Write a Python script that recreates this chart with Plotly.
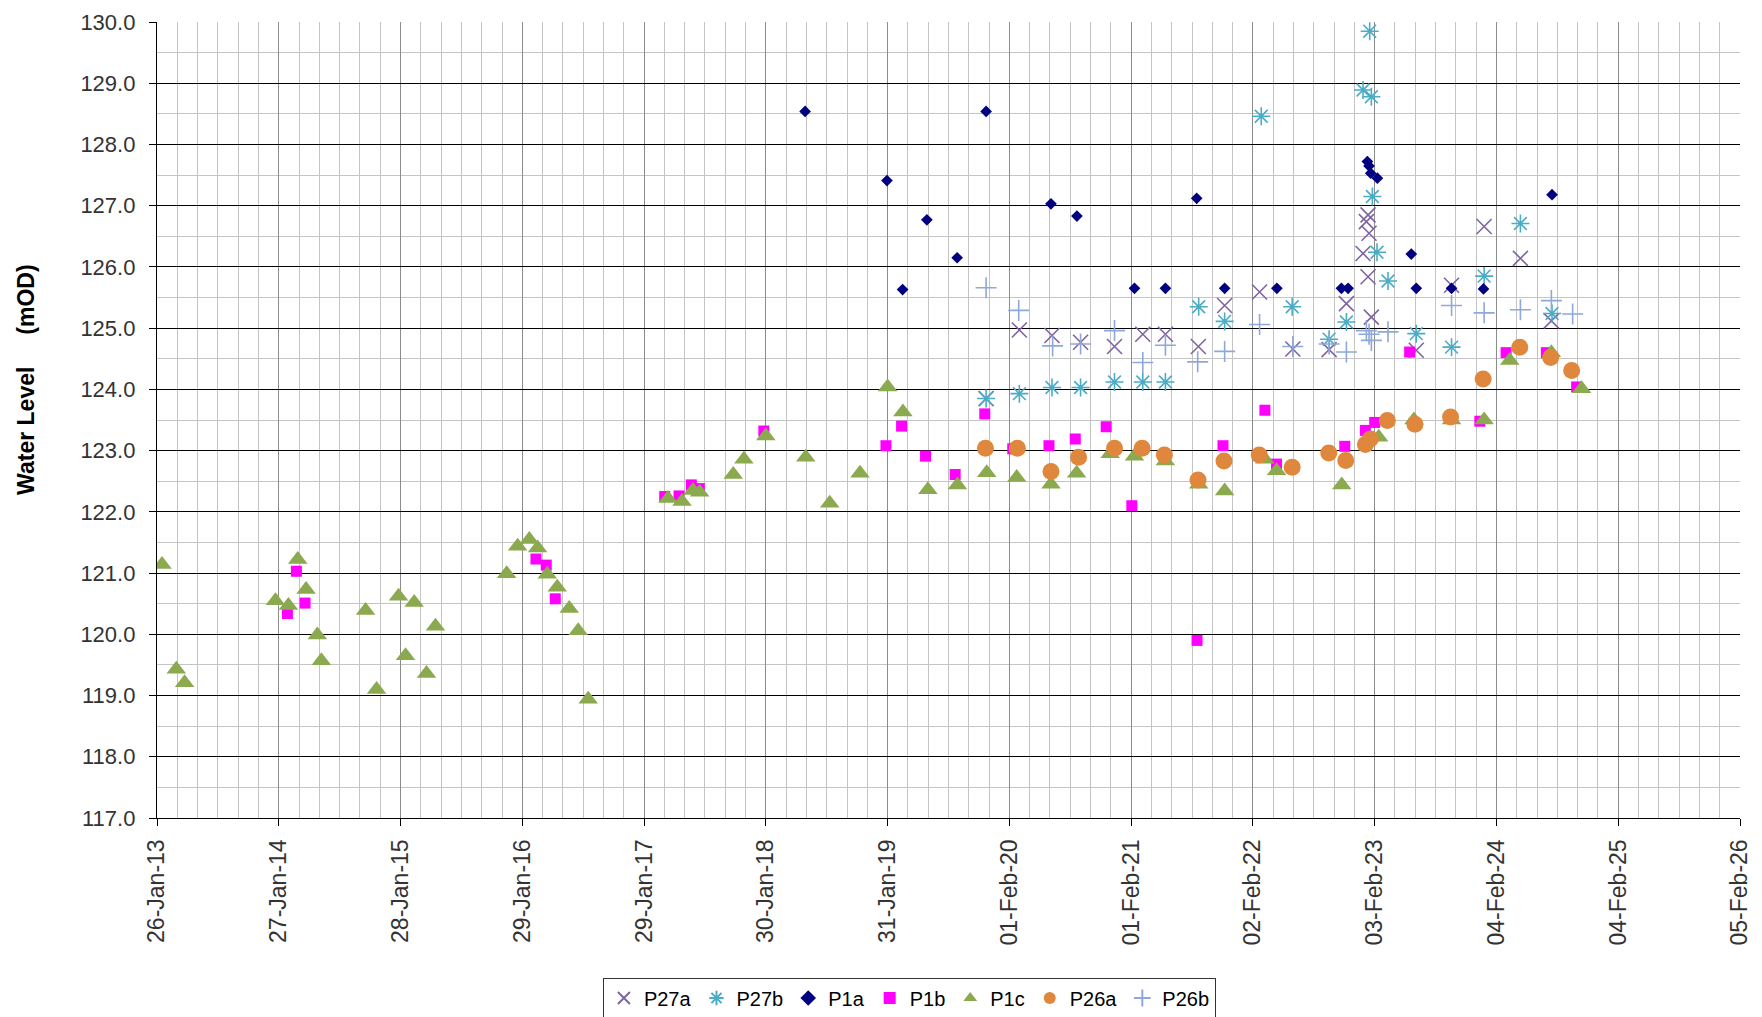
import pandas as pd
import plotly.graph_objects as go

# x values are Excel serial dates (41300 = 26-Jan-2013); y values are water levels (mOD)
p27a_x = [43792, 43892, 43990, 44076, 44178, 44263, 44331, 44430, 44509, 44614, 44714, 44823,
          44875, 44925, 44935, 44940, 44943, 44940, 44950, 45085, 45191, 45289, 45398, 45491]
p27a_y = [123.85, 124.97, 124.88, 124.77, 124.70, 124.90, 124.90, 124.70, 125.37, 125.59, 124.66, 124.65,
          125.40, 126.22, 126.74, 126.85, 126.55, 125.84, 125.18, 124.64, 125.70, 126.66, 126.14, 125.12]

p27b_x = [43792, 43892, 43990, 44076, 44178, 44263, 44331, 44431, 44509, 44619, 44712, 44823,
          44875, 44925, 44945, 44950, 44953, 44967, 45000, 45085, 45191, 45289, 45398, 45493]
p27b_y = [123.85, 123.93, 124.03, 124.03, 124.12, 124.12, 124.12, 125.35, 125.11, 128.46, 125.35, 124.82,
          125.10, 128.89, 129.85, 128.78, 127.15, 126.24, 125.77, 124.91, 124.69, 125.85, 126.71, 125.24]

p1a_x = [43248, 43494, 43541, 43614, 43705, 43792, 43987, 44065, 44238, 44331, 44425, 44509,
         44666, 44860, 44880, 44938, 44943, 44948, 44968, 45070, 45085, 45191, 45287, 45493]
p1a_y = [128.54, 127.41, 125.63, 126.77, 126.15, 128.54, 127.03, 126.83, 125.65, 125.65, 127.12, 125.65,
         125.65, 125.65, 125.65, 127.72, 127.65, 127.53, 127.45, 126.21, 125.65, 125.65, 125.64, 127.18]

p1b_x = [41692, 41719, 41745, 42439, 42470, 42497, 42826, 42869, 42906, 42930, 43124, 43491,
         43538, 43610, 43699, 43788, 43872, 43981, 44060, 44153, 44230, 44426, 44504, 44630,
         44665, 44870, 44932, 44960, 45065, 45276, 45355, 45476, 45567]
p1b_y = [120.34, 121.03, 120.51, 121.23, 121.13, 120.58, 122.25, 122.26, 122.44, 122.38, 123.32, 123.08,
         123.40, 122.91, 122.61, 123.60, 123.03, 123.08, 123.19, 123.39, 122.10, 119.90, 123.08, 123.66,
         122.78, 123.07, 123.33, 123.46, 124.61, 123.48, 124.60, 124.60, 124.04]

p1c_x = [41315, 41358, 41383, 41656, 41695, 41723, 41748, 41782, 41794, 41927, 41960, 42026,
         42047, 42073, 42110, 42137, 42351, 42384, 42419, 42444, 42473, 42503, 42539, 42566,
         42596, 42836, 42878, 42911, 42931, 43032, 43064, 43130, 43250, 43322, 43413, 43496,
         43542, 43617, 43706, 43794, 43884, 43987, 44064, 44165, 44238, 44331, 44431, 44509,
         44630, 44665, 44861, 44972, 45078, 45191, 45289, 45366, 45491, 45582]
p1c_y = [121.14, 119.43, 119.21, 120.55, 120.47, 121.22, 120.73, 119.99, 119.57, 120.39, 119.10, 120.62,
         119.65, 120.52, 119.36, 120.13, 120.99, 121.44, 121.55, 121.41, 120.98, 120.77, 120.42, 120.06,
         118.94, 122.22, 122.17, 122.35, 122.32, 122.61, 122.86, 123.24, 122.89, 122.14, 122.63, 124.04,
         123.63, 122.36, 122.44, 122.64, 122.56, 122.45, 122.63, 122.95, 122.91, 122.83, 122.45, 122.34,
         122.86, 122.67, 122.44, 123.22, 123.50, 123.50, 123.50, 124.47, 124.60, 124.01]

p26a_x = [43790, 43886, 43987, 44070, 44178, 44261, 44328, 44429, 44507, 44613, 44712, 44822,
          44873, 44932, 44947, 44998, 45081, 45188, 45286, 45396, 45489, 45552]
p26a_y = [123.04, 123.04, 122.66, 122.89, 123.04, 123.04, 122.93, 122.52, 122.83, 122.93, 122.73, 122.96,
          122.84, 123.10, 123.19, 123.49, 123.43, 123.55, 124.17, 124.69, 124.52, 124.31]

p26b_x = [43792, 43890, 43992, 44076, 44178, 44263, 44331, 44428, 44509, 44614, 44714, 44823,
          44875, 44935, 44943, 44950, 45000, 45191, 45289, 45398, 45491, 45555]
p26b_y = [125.66, 125.29, 124.71, 124.74, 124.96, 124.44, 124.72, 124.45, 124.62, 125.06, 124.70, 124.74,
          124.61, 124.96, 124.90, 124.80, 124.94, 125.37, 125.25, 125.30, 125.45, 125.23]

series_names = ["P27a", "P27b", "P1a", "P1b", "P1c", "P26a", "P26b"]
x_tick_start = "2013-01-26"
x_range = ["2013-01-26", "2026-02-05"]
y_range = [117, 130]


def to_date(serials):
    return pd.to_datetime(pd.Series(serials), unit="D", origin="1899-12-30")


styles = {
    "P27a": dict(symbol="x-thin-open", size=15, color="#8064A2", line=dict(width=1.6, color="#8064A2")),
    "P27b": dict(symbol="asterisk-open", size=15, color="#4BACC6", line=dict(width=1.6, color="#4BACC6")),
    "P1a": dict(symbol="diamond", size=9, color="#000080"),
    "P1b": dict(symbol="square", size=11, color="#FF00FF"),
    "P1c": dict(symbol="triangle-up", size=17, color="#8BA94E"),
    "P26a": dict(symbol="circle", size=17, color="#DF883D"),
    "P26b": dict(symbol="cross-thin-open", size=15, color="#8EA8D8", line=dict(width=1.6, color="#8EA8D8")),
}

data = {
    "P27a": (p27a_x, p27a_y),
    "P27b": (p27b_x, p27b_y),
    "P1a": (p1a_x, p1a_y),
    "P1b": (p1b_x, p1b_y),
    "P1c": (p1c_x, p1c_y),
    "P26a": (p26a_x, p26a_y),
    "P26b": (p26b_x, p26b_y),
}

fig = go.Figure()
for name in series_names:
    xs, ys = data[name]
    fig.add_trace(go.Scatter(x=to_date(xs), y=ys, mode="markers", name=name,
                             marker=styles[name], cliponaxis=True))

DAY = 86400000
fig.update_xaxes(
    type="date", range=x_range, tick0=x_tick_start, dtick=366 * DAY,
    tickformat="%d-%b-%y", tickangle=-90, automargin=False,
    showgrid=True, gridcolor="#8c8c8c", gridwidth=1,
    showline=True, linecolor="black", linewidth=1.3, mirror=False,
    ticks="outside", ticklen=7, tickcolor="black", ticklabelstandoff=4,
    tickfont=dict(family="Liberation Sans, Arial", size=23, color="#333"),
    minor=dict(tick0=x_tick_start, dtick=61 * DAY, showgrid=True, gridcolor="#c4c4c4", gridwidth=1),
    zeroline=False,
)
fig.update_yaxes(
    range=y_range, dtick=1, tick0=117, tickformat=".1f", automargin=False,
    showgrid=True, gridcolor="#000000", gridwidth=1.3,
    showline=True, linecolor="black", linewidth=1.3,
    ticks="outside", ticklen=7, tickcolor="black", ticklabelstandoff=9,
    tickfont=dict(family="Liberation Sans, Arial", size=22, color="#333"),
    minor=dict(dtick=0.5, showgrid=True, gridcolor="#c4c4c4", gridwidth=1),
    zeroline=False,
)

fig.add_annotation(
    text="<b>Water Level\u00a0\u00a0\u00a0\u00a0\u00a0(mOD)</b>", textangle=-90,
    xref="paper", yref="paper", x=-0.0828, y=0.5503, xanchor="center", yanchor="middle",
    showarrow=False, font=dict(family="Liberation Sans, Arial", size=23, color="black"),
)

fig.update_layout(
    width=1762, height=1017,
    margin=dict(l=149, r=30, t=14, b=207, autoexpand=False),
    paper_bgcolor="white", plot_bgcolor="white",
    showlegend=True,
    legend=dict(orientation="h", x=0.4753, xanchor="center",
                yref="container", y=0.0467, yanchor="top",
                bordercolor="#333", borderwidth=1, itemsizing="constant",
                font=dict(family="Liberation Sans, Arial", size=20, color="black"),
                itemwidth=30, tracegroupgap=0),
)

fig.write_html("out.html")
